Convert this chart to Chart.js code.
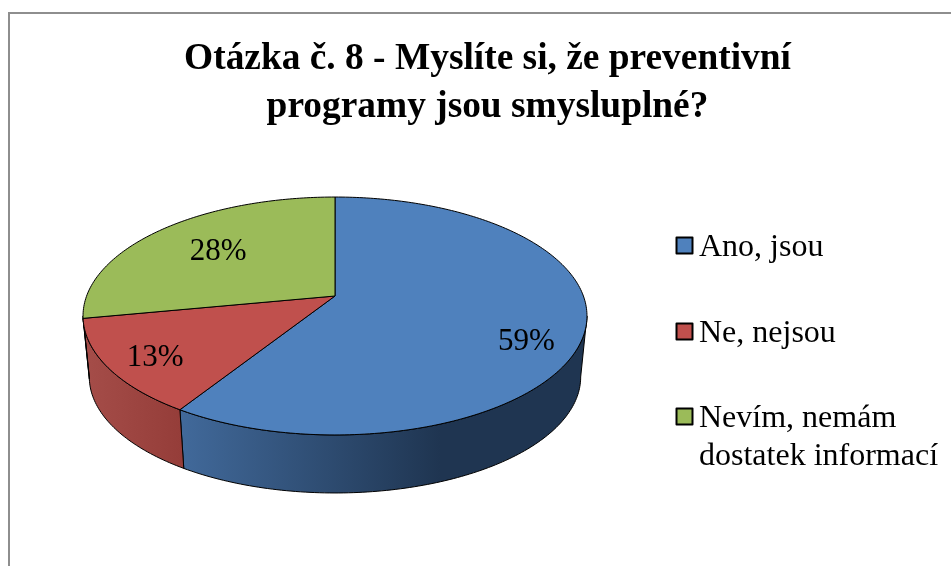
<!DOCTYPE html>
<html>
<head>
<meta charset="utf-8">
<style>
  html, body { margin: 0; padding: 0; background: #fff; overflow: hidden; }
  #frame { position: absolute; left: 8px; top: 12px; width: 943px; height: 554px; box-sizing: border-box;
           border-left: 2px solid #8e8e8e; border-top: 2px solid #8e8e8e; }
  canvas { position: absolute; left: 0; top: 0; }
</style>
<script src="https://cdn.jsdelivr.net/npm/chart.js@4"></script>
</head>
<body>
<div id="frame"></div>
<canvas id="pieChart" width="951" height="566"></canvas>
<script>
const categories = ['Ano, jsou', 'Ne, nejsou', 'Nevím, nemám dostatek informací'];
const legendLines = [['Ano, jsou'], ['Ne, nejsou'], ['Nevím, nemám', 'dostatek informací']];
const values = [59, 13, 28];
const colors = ['#4f81bd', '#c0504d', '#9bbb59'];

const serif = '"Liberation Serif", "Times New Roman", serif';

// perspective of the tilted pie: pie centre, half width, depth scale, vanishing factor
const view = { cx: 335, cy: 296, ax: 248.4, by: 115.6, k: 0.168 };
const wall = { drop: 61.5, shrink: 0.975 };
// wall shading: colour at the left end, colour at the right end, x range of the ramp
const wallShade = [
  { left: '#41699a', right: '#1f3551', from: 182, to: 440 },
  { left: '#a44c48', right: '#953d39', from: 90, to: 182 },
  { left: '#7d9647', right: '#7d9647', from: 83, to: 90 },
];
const labelNudge = [[6, 21], [-14, 9], [16, 7]];
const legendPos = { boxX: 676.5, textX: 699, boxSize: 16, boxRise: 10.5, lineStep: 38 };
const legendBaseline = [256, 342, 427];

// angle is clockwise from 12 o'clock, r is 0..1 on the pie disc
function project(angle, r) {
  const u = Math.sin(angle) * r;
  const v = -Math.cos(angle) * r;
  const d = 1 - view.k * v;
  return [view.cx + view.ax * u / d, view.cy + view.by * v / d];
}

function projectBottom(angle) {
  const [x, y] = project(angle, 1);
  return [view.cx + (x - view.cx) * wall.shrink, view.cy + wall.drop + (y - view.cy) * wall.shrink];
}

function edgePath(ctx, from, to, fn, move) {
  const steps = Math.max(2, Math.ceil(Math.abs(to - from) * 60));
  for (let i = 0; i <= steps; i++) {
    const [x, y] = fn(from + (to - from) * i / steps);
    if (i === 0 && move) ctx.moveTo(x, y);
    else ctx.lineTo(x, y);
  }
}

const tiltedPie = {
  id: 'tiltedPie',
  beforeDatasetDraw(chart, args) {
    const ctx = chart.ctx;
    const arcs = chart.getDatasetMeta(args.index).data;
    const slices = arcs.map((arc, i) => ({
      start: arc.startAngle + Math.PI / 2,
      end: arc.endAngle + Math.PI / 2,
      i
    }));
    // the outer wall is only seen between the two side tangents
    const tanR = Math.PI - Math.acos(view.k);
    const tanL = Math.PI + Math.acos(view.k);

    ctx.save();
    ctx.lineWidth = 1;
    ctx.strokeStyle = '#000';
    ctx.lineJoin = 'round';

    slices.forEach(s => {
      const a = Math.max(s.start, tanR);
      const b = Math.min(s.end, tanL);
      if (b <= a) return;
      const shade = wallShade[s.i];
      const grad = ctx.createLinearGradient(shade.from, 0, shade.to, 0);
      grad.addColorStop(0, shade.left);
      grad.addColorStop(1, shade.right);
      ctx.fillStyle = grad;
      ctx.beginPath();
      edgePath(ctx, a, b, t => project(t, 1), true);
      edgePath(ctx, b, a, projectBottom, false);
      ctx.closePath();
      ctx.fill();
      ctx.stroke();
    });

    slices.forEach(s => {
      ctx.beginPath();
      ctx.moveTo(view.cx, view.cy);
      edgePath(ctx, s.start, s.end, t => project(t, 1), false);
      ctx.closePath();
      ctx.fillStyle = colors[s.i];
      ctx.fill();
      ctx.stroke();
    });

    // percentage labels
    const total = values.reduce((a, b) => a + b, 0);
    ctx.fillStyle = '#000';
    ctx.font = '31px ' + serif;
    ctx.textAlign = 'center';
    ctx.textBaseline = 'middle';
    slices.forEach(s => {
      const [x, y] = project((s.start + s.end) / 2, 0.75);
      const text = Math.round(values[s.i] / total * 100) + '%';
      ctx.fillText(text, x + labelNudge[s.i][0], y + labelNudge[s.i][1]);
    });

    // legend
    ctx.font = '32px ' + serif;
    ctx.textAlign = 'left';
    ctx.textBaseline = 'alphabetic';
    legendLines.forEach((lines, i) => {
      const boxTop = legendBaseline[i] - legendPos.boxRise - legendPos.boxSize / 2;
      ctx.fillStyle = colors[i];
      ctx.lineWidth = 2;
      ctx.fillRect(legendPos.boxX, boxTop, legendPos.boxSize, legendPos.boxSize);
      ctx.strokeRect(legendPos.boxX, boxTop, legendPos.boxSize, legendPos.boxSize);
      ctx.fillStyle = '#000';
      lines.forEach((line, j) => ctx.fillText(line, legendPos.textX, legendBaseline[i] + j * legendPos.lineStep));
    });
    ctx.restore();
    return false;
  }
};

new Chart(document.getElementById('pieChart'), {
  type: 'pie',
  data: {
    labels: categories,
    datasets: [
      {
        data: values,
        backgroundColor: colors,
        borderColor: '#000',
        borderWidth: 1,
      },
    ],
  },
  options: {
    responsive: false,
    animation: false,
    layout: { padding: { left: 24 } },
    plugins: {
      legend: { display: false },
      tooltip: { enabled: false },
      title: {
        display: true,
        text: ['Otázka č. 8 - Myslíte si, že preventivní', 'programy jsou smysluplné?'],
        color: '#000',
        font: { family: serif, size: 37.4, weight: 'bold', lineHeight: 1.27 },
        padding: { top: 36, bottom: 20 },
      },
    },
  },
  plugins: [tiltedPie],
});
</script>
</body>
</html>
